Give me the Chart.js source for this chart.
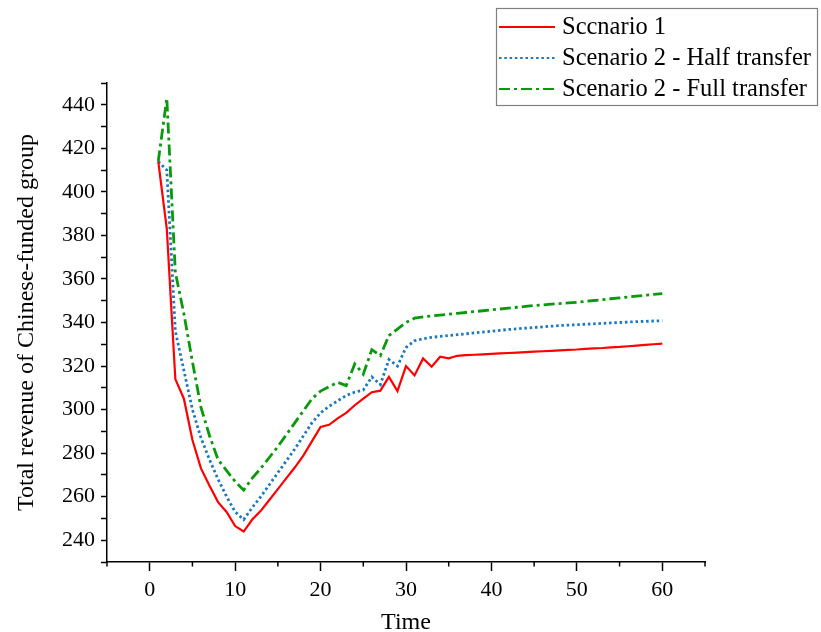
<!DOCTYPE html>
<html>
<head>
<meta charset="utf-8">
<script src="https://cdn.jsdelivr.net/npm/chart.js@4"></script>
<style>
  html, body { margin: 0; padding: 0; background: #fff; }
  #wrap { width: 821px; height: 632px; }
</style>
</head>
<body>
<div id="wrap"><canvas id="chart" width="821" height="632"></canvas></div>
<script>
// time steps
const times = [1,2,3,4,5,6,7,8,9,10,11,12,13,14,15,16,17,18,19,20,
  21,22,23,24,25,26,27,28,29,30,31,32,33,34,35,36,37,38,39,40,
  41,42,43,44,45,46,47,48,49,50,51,52,53,54,55,56,57,58,59,60];

// Scenario 1
const scenario1 = [414,383,314,305,286,273,265,257.5,253,246.5,244,249.5,253.5,258.5,263.5,268.5,273.5,279,285.5,292,
  293,296,298.5,302,305,308,308.7,315,308.5,320,315.7,323.5,319.7,324.3,323.5,324.7,325.0,325.2,325.4,325.6,
  325.8,326.0,326.2,326.4,326.6,326.8,327.0,327.2,327.4,327.6,327.9,328.1,328.3,328.6,328.8,329.1,329.4,329.7,330.0,330.3];

// Scenario 2 - half transfer
const halfTransfer = [414,410,336,318,300,287,277,268,260,253,249.5,255,260,265.5,271,276.5,282,288,294,298.5,
  301.5,304,306.5,308,309,315,311.5,323,320,328.5,331.6,332.5,333.2,333.6,334.0,334.4,334.8,335.2,335.6,336.0,
  336.4,336.8,337.1,337.4,337.7,338.0,338.3,338.6,338.8,339.0,339.2,339.4,339.6,339.8,340.0,340.2,340.4,340.5,340.7,340.8];

// Scenario 2 - full transfer
const fullTransfer = [414,443,363,344,322,301,288,277,272,267,263,268.5,273,278,283,288.5,294,299.5,305,308.5,
  310.5,312.5,311,321,316.3,327.5,324.8,334,337,340,342,342.6,343.0,343.4,343.8,344.2,344.6,345.0,345.4,345.8,
  346.2,346.6,347.0,347.4,347.8,348.1,348.4,348.7,349.0,349.3,349.7,350.1,350.5,350.9,351.3,351.7,352.1,352.5,352.9,353.3];

const seriesLabels = ["Sccnario 1", "Scenario 2 - Half transfer", "Scenario 2 - Full transfer"];

const serif = "'Liberation Serif', 'Times New Roman', serif";
Chart.defaults.font.family = serif;
Chart.defaults.color = "#000";

function pts(arr) {
  return times.map((t, i) => ({ x: t, y: arr[i] }));
}

// minor ticks + legend box
const extras = {
  id: "extras",
  afterDraw(chart) {
    const ctx = chart.ctx;
    const xs = chart.scales.x;
    const area = chart.chartArea;
    ctx.save();
    ctx.strokeStyle = "#000";
    ctx.lineWidth = 1.5;
    for (let v = -5; v <= 65; v += 10) {
      const px = xs.getPixelForValue(v);
      ctx.beginPath();
      ctx.moveTo(px, area.bottom);
      ctx.lineTo(px, area.bottom + 4.5);
      ctx.stroke();
    }

    // legend
    const bx = 496.5, by = 8.5, bw = 321, bh = 97;
    ctx.strokeStyle = "#808080";
    ctx.lineWidth = 1.2;
    ctx.strokeRect(bx, by, bw, bh);
    const rows = [27, 58, 89];
    ctx.font = "24.5px " + serif;
    ctx.textBaseline = "middle";
    ctx.fillStyle = "#000";
    chart.data.datasets.forEach((ds, i) => {
      ctx.strokeStyle = ds.borderColor;
      ctx.lineWidth = 2;
      ctx.setLineDash(ds.borderDash || []);
      ctx.beginPath();
      ctx.moveTo(499, rows[i]);
      ctx.lineTo(555, rows[i]);
      ctx.stroke();
      ctx.setLineDash([]);
      ctx.fillText(ds.label, 562, rows[i] + 1);
    });
    ctx.restore();
  }
};

new Chart(document.getElementById("chart"), {
  type: "line",
  data: {
    datasets: [
      { label: seriesLabels[0], data: pts(scenario1), borderColor: "#ff0000", borderWidth: 2.2, order: 1 },
      { label: seriesLabels[1], data: pts(halfTransfer), borderColor: "#1a78c2", borderWidth: 2.8, borderDash: [2.5, 2.8], order: 2 },
      { label: seriesLabels[2], data: pts(fullTransfer), borderColor: "#089a0a", borderWidth: 2.8, borderDash: [11, 4, 3, 4], order: 0 }
    ]
  },
  options: {
    responsive: false,
    animation: false,
    elements: { point: { radius: 0 }, line: { tension: 0 } },
    layout: { padding: { left: 0, right: 116, top: 83, bottom: 0 } },
    plugins: { legend: { display: false }, tooltip: { enabled: false } },
    scales: {
      x: {
        type: "linear",
        min: -5, max: 65,
        afterFit: s => { s.height = 70; },
        border: { display: true, color: "#000", width: 1.5 },
        grid: {
          drawOnChartArea: false, drawTicks: true, tickLength: 9,
          tickColor: c => (c.tick && c.tick.value % 10 === 0) ? "#000" : "rgba(0,0,0,0)",
          tickWidth: 1.5
        },
        ticks: {
          stepSize: 5, padding: 6, maxRotation: 0, autoSkip: false,
          font: { size: 22 },
          callback: v => (v % 10 === 0 ? v : "")
        },
        title: { display: true, text: "Time", font: { size: 24, lineHeight: 1.0 }, padding: { top: 0, bottom: -3 } }
      },
      y: {
        min: 230, max: 450,
        afterFit: s => { s.width = 107; },
        border: { display: true, color: "#000", width: 1.5 },
        grid: { drawOnChartArea: false, drawTicks: true, tickLength: 6, tickColor: "#000", tickWidth: 1.5 },
        ticks: {
          stepSize: 10, padding: 6, autoSkip: false,
          font: { size: 22 },
          callback: v => (v % 20 === 0 && v > 230 && v < 450 ? v : "")
        },
        title: { display: true, text: "Total revenue of Chinese-funded group", font: { size: 24, lineHeight: 1.0 }, padding: { top: 15, bottom: 0 } }
      }
    }
  },
  plugins: [extras]
});
</script>
</body>
</html>
